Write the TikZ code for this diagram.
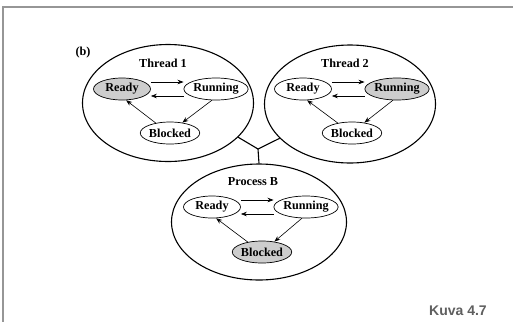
\documentclass[tikz,border=0pt]{standalone}
\usepackage{fontspec}
\setmainfont{Liberation Serif}
\newfontfamily\captionfont{Liberation Sans}
\usetikzlibrary{shapes.geometric,arrows.meta}
\definecolor{stategray}{RGB}{205,205,205}
\definecolor{framegray}{RGB}{150,150,150}
\definecolor{captiongray}{RGB}{95,95,95}
\tikzset{
  state/.style={ellipse, draw, line width=0.7pt, minimum width=57pt, minimum height=22pt, inner sep=0pt,
    font=\fontsize{12.2}{13}\selectfont\bfseries},
  active/.style={state, fill=stategray},
  group/.style={ellipse, draw, line width=1.1pt, inner sep=0pt},
  title/.style={font=\fontsize{12.2}{13}\selectfont\bfseries},
  trans/.style={-{Stealth[length=6pt,width=4.5pt]}, line width=0.6pt},
  link/.style={line width=1.1pt}
}
\begin{document}
\begin{tikzpicture}[x=1pt,y=-1pt]
\useasboundingbox (0,0) rectangle (513,322);
% frame
\draw[framegray, line width=1.5pt] (513,7) -- (3,7) -- (3,322);
% groups
\node[group, minimum width=171pt, minimum height=117pt] (T1) at (168,103) {};
\node[group, minimum width=171pt, minimum height=118pt] (T2) at (350,104) {};
\node[group, minimum width=175pt, minimum height=116pt] (PB) at (259,222) {};
\node[title] (t1) at (163,63) {Thread 1};
\node[title] (t2) at (345,63) {Thread 2};
\node[title] (tb) at (253,182) {Process B};
\node[title] (lb) at (83,53) {(b)};
% Thread 1
\node[active] (R1) at (122,89) {Ready};
\node[state] (U1) at (216,89) {Running};
\node[state] (B1) at (170,133) {Blocked};
% Thread 2
\node[state] (R2) at (303,89) {Ready};
\node[active] (U2) at (397,89) {Running};
\node[state] (B2) at (352,133) {Blocked};
% Process B
\node[state] (R3) at (212,207) {Ready};
\node[state] (U3) at (306,207) {Running};
\node[active] (B3) at (262,252) {Blocked};
% transitions
\foreach \r/\u/\b in {R1/U1/B1, R2/U2/B2, R3/U3/B3}{
  \draw[trans] ([yshift=7pt]\r.east) -- ([yshift=7pt]\u.west);
  \draw[trans] ([yshift=-7pt]\u.west) -- ([yshift=-7pt]\r.east);
  \draw[trans] (\u.250) -- (\b.40);
  \draw[trans] (\b.145) -- (\r.290);
}
% tree connector
\coordinate (J) at (258,149);
\draw[link] (T1.-26.6) -- (J) -- (T2.206);
\draw[link] (J) -- (PB.north);
% caption
\node[font=\captionfont\fontsize{14}{16}\selectfont\bfseries, text=captiongray] (cap) at (458,311) {Kuva 4.7};
\end{tikzpicture}
\end{document}
